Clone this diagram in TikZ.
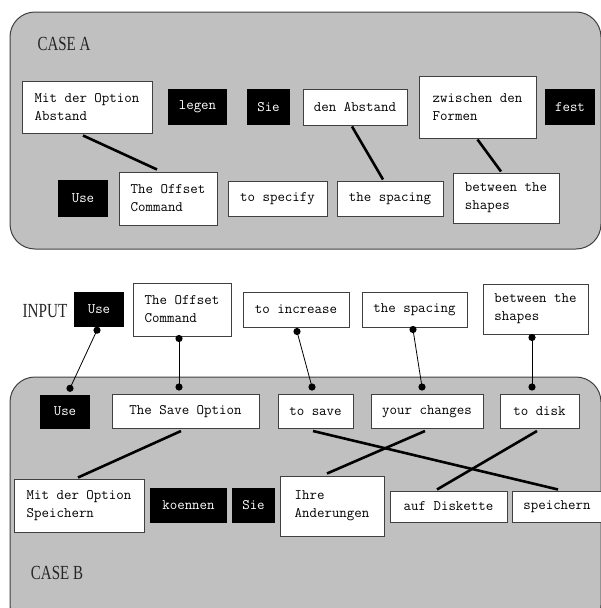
\documentclass[tikz,border=0pt]{standalone}
\usepackage{fontspec}
\usepackage{graphicx}
\setmainfont{Liberation Serif}
\definecolor{panelgray}{HTML}{C0C0C0}
\definecolor{edgegray}{HTML}{404040}
\tikzset{
  wbox/.style={draw=edgegray, line width=1pt, fill=white, inner sep=0pt, align=left,
    font=\ttfamily\fontsize{14.5}{18}\selectfont},
  bbox/.style={fill=black, text=white, inner sep=0pt,
    font=\ttfamily\fontsize{14.5}{18}\selectfont},
  panel/.style={draw=edgegray, line width=1pt, fill=panelgray, rounded corners=25pt},
  lbl/.style={inner sep=0pt, text=black!85, font=\fontsize{20}{22}\selectfont},
  thickline/.style={line width=2.6pt, black},
  dotline/.style={line width=0.8pt, black},
  dotend/.style={fill=black, draw=none}
}
\begin{document}
\begin{tikzpicture}[x=1pt,y=-1pt]
\useasboundingbox (0,0) rectangle (601,608);
\begin{scope}
\clip (0,0) rectangle (601,608);
% panels
\draw[panel] (10,12) rectangle (601,249);
\draw[panel] (10,377) rectangle (601,630);

% labels
\node[lbl] (caseA) at (64,44) {\scalebox{0.75}[1]{CASE A}};
\node[lbl] (input) at (45,311) {\scalebox{0.76}[1]{INPUT}};
\node[lbl] (caseB) at (57,573) {\scalebox{0.75}[1]{CASE B}};

% Case A row 1
\node[wbox, minimum width=130, minimum height=52] (amit) at (87,107) {Mit der Option\\Abstand};
\node[bbox, minimum width=59, minimum height=36] (alegen) at (197.5,107) {legen};
\node[bbox, minimum width=43, minimum height=36] (asie) at (268.5,107) {Sie};
\node[wbox, minimum width=104, minimum height=36] (aden) at (355,107) {den Abstand};
\node[wbox, minimum width=117, minimum height=62] (azw) at (477.5,107) {zwischen den\\Formen};
\node[bbox, minimum width=50, minimum height=36] (afest) at (570,107) {fest};
% Case A row 2
\node[bbox, minimum width=50, minimum height=37] (ause) at (83,198.5) {Use};
\node[wbox, minimum width=98, minimum height=53] (aoff) at (168,198.5) {The Offset\\Command};
\node[wbox, minimum width=99, minimum height=35] (aspec) at (277.5,198.5) {to specify};
\node[wbox, minimum width=106, minimum height=35] (aspc) at (390,198.5) {the spacing};
\node[wbox, minimum width=106, minimum height=50] (abtw) at (506,198) {between the\\shapes};

\draw[thickline] ([xshift=-4pt,yshift=-2pt]amit.south) -- ([xshift=-11pt,yshift=2pt]aoff.north);
\draw[thickline] ([xshift=-3pt,yshift=-1pt]aden.south) -- ([xshift=-7pt,yshift=1pt]aspc.north);
\draw[thickline] ([yshift=-1pt]azw.south) -- ([xshift=-5pt,yshift=1pt]abtw.north);

% Input row
\node[bbox, minimum width=50, minimum height=35] (iuse) at (99,309.5) {Use};
\node[wbox, minimum width=98, minimum height=53] (ioff) at (182,309.5) {The Offset\\Command};
\node[wbox, minimum width=106, minimum height=35] (iinc) at (296,309.5) {to increase};
\node[wbox, minimum width=105, minimum height=35] (ispc) at (414.5,309.5) {the spacing};
\node[wbox, minimum width=105, minimum height=50] (ibtw) at (535.5,309) {between the\\shapes};

% Case B row 1
\node[bbox, minimum width=50, minimum height=34] (buse) at (65,411.5) {Use};
\node[wbox, minimum width=147, minimum height=34] (bsave) at (185.5,411.5) {The Save Option};
\node[wbox, minimum width=75, minimum height=34] (btosave) at (315.5,411.5) {to save};
\node[wbox, minimum width=112, minimum height=34] (byour) at (427,411.5) {your changes};
\node[wbox, minimum width=79, minimum height=34] (bdisk) at (539.5,411.5) {to disk};

% Case B row 2
\node[wbox, minimum width=130, minimum height=53] (bmit) at (79,505.5) {Mit der Option\\Speichern};
\node[bbox, minimum width=77, minimum height=35] (bkoe) at (188.5,505.5) {koennen};
\node[bbox, minimum width=43, minimum height=35] (bsie) at (253.5,505.5) {Sie};
\node[wbox, minimum width=104, minimum height=60] (bihre) at (332,506) {Ihre\\Anderungen};
\node[wbox, minimum width=117, minimum height=31] (bauf) at (448.5,506.5) {auf Diskette};
\node[wbox, minimum width=90, minimum height=31] (bspe) at (557,506.5) {speichern};

% dot connectors
\coordinate (d1a) at ([xshift=-2pt,yshift=-3pt]iuse.south);
\coordinate (d1b) at ([xshift=5pt,yshift=6pt]buse.north);
\coordinate (d2a) at ([xshift=-3pt,yshift=-2pt]ioff.south);
\coordinate (d2b) at ([xshift=-6.5pt,yshift=7pt]bsave.north);
\coordinate (d3a) at ([xshift=1pt,yshift=-4pt]iinc.south);
\coordinate (d3b) at ([xshift=-3.5pt,yshift=7pt]btosave.north);
\coordinate (d4a) at ([xshift=-1.5pt,yshift=-2pt]ispc.south);
\coordinate (d4b) at ([xshift=-5pt,yshift=7pt]byour.north);
\coordinate (d5a) at ([xshift=-3.5pt,yshift=-3pt]ibtw.south);
\coordinate (d5b) at ([xshift=-7.5pt,yshift=7pt]bdisk.north);
\foreach \a/\b in {d1a/d1b,d2a/d2b,d3a/d3b,d4a/d4b,d5a/d5b}{
  \draw[dotline] (\a) -- (\b);
  \fill[dotend] (\a) circle[radius=3.6pt];
  \fill[dotend] (\b) circle[radius=3.6pt];
}

% cross lines
\draw[thickline] ([xshift=-4.5pt,yshift=-2pt]bsave.south) -- ([xshift=-1pt,yshift=1pt]bmit.north);
\draw[thickline] ([xshift=-2.5pt,yshift=-2pt]btosave.south) -- ([xshift=1pt,yshift=1pt]bspe.north);
\draw[thickline] ([xshift=-2pt,yshift=-2pt]byour.south) -- ([xshift=-5pt,yshift=2pt]bihre.north);
\draw[thickline] ([xshift=-2.5pt,yshift=-2pt]bdisk.south) -- ([xshift=-11.5pt,yshift=1pt]bauf.north);
\end{scope}
\end{tikzpicture}
\end{document}
